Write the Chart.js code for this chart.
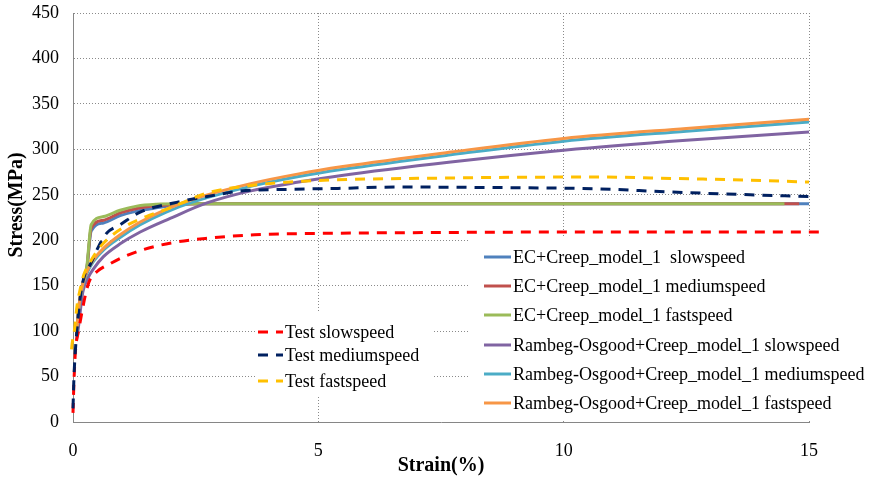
<!DOCTYPE html>
<html lang="en">
<head>
    <meta charset="UTF-8" />
    <title>Stress-strain curves</title>
    <script src="https://cdn.jsdelivr.net/npm/chart.js"></script>
    <style>
        body { margin: 0; background: #fff; }
        canvas { display: block; }
    </style>
</head>
<body>
    <canvas id="chart" width="869" height="486"></canvas>

    <script>
        // ---- data (strain in %, stress in MPa) ----
        const xTicks = [0, 5, 10, 15];
        const yTicks = [0, 50, 100, 150, 200, 250, 300, 350, 400, 450];

        const strainTestSlow = [0, 0.02, 0.05, 0.12, 0.2, 0.29, 0.35, 0.5, 0.75, 1.0, 1.45, 2.0, 2.7, 3.7, 5, 7.5, 10, 12.5, 15.2];
        const stressTestSlow = [10, 45, 78, 102, 126, 148, 157, 166, 174, 181, 190, 197, 202, 206, 207.5, 208.5, 209, 209, 209];

        const strainTestMedium = [0, 0.02, 0.05, 0.08, 0.16, 0.24, 0.35, 0.52, 0.69, 0.96, 1.37, 2.05, 2.73, 3.4, 4.4, 5.4, 6.6, 8.5, 10.7, 12.2, 13.8, 15];
        const stressTestMedium = [15, 50, 80, 101, 142, 162, 173, 193, 208, 217, 231, 241, 248, 254, 256, 257, 258.5, 258, 256.5, 253, 250, 248];

        const strainTestFast = [-0.07, -0.06, -0.03, 0.03, 0.08, 0.15, 0.22, 0.35, 0.53, 0.81, 1.12, 1.49, 1.9, 2.26, 2.73, 3.6, 4.7, 7.7, 10.7, 12.2, 13.8, 15];
        const stressTestFast = [15, 50, 80, 101, 127, 147, 162, 176, 191, 206, 217, 226, 234, 242, 252, 260, 265, 268.5, 269.5, 268, 266, 264];

        const strainEcSlow = [0.07, 0.1, 0.14, 0.2, 0.28, 0.37, 0.62, 0.96, 1.3, 1.63, 1.98, 2.4, 15];
        const stressEcSlow = [95, 115, 135, 152, 168, 210, 219, 227, 232, 235, 238, 240, 240];

        const strainEcMedium = [0.07, 0.1, 0.14, 0.2, 0.28, 0.37, 0.62, 0.96, 1.3, 1.7, 2.2, 2.6, 14.8];
        const stressEcMedium = [95, 115, 135, 152, 168, 213, 222, 230, 235, 238, 239.5, 240, 240];

        const strainEcFast = [0.07, 0.1, 0.14, 0.2, 0.28, 0.37, 0.62, 0.96, 1.3, 1.7, 2.2, 14.5];
        const stressEcFast = [95, 115, 135, 152, 170, 217, 226, 233, 237.5, 239.5, 240, 240];

        const strainRoSlow = [0.07, 0.1, 0.2, 0.3, 0.41, 0.62, 0.96, 1.37, 1.98, 2.73, 3.6, 4.6, 5.44, 7.7, 10, 12.5, 15];
        const stressRoSlow = [90, 100, 143, 158, 168, 182, 196, 209, 224, 241, 254, 264, 271, 286, 299, 310, 319];

        const strainRoMedium = [0.07, 0.1, 0.14, 0.2, 0.28, 0.41, 0.62, 0.96, 1.37, 1.9, 2.5, 3.6, 4.6, 5.5, 7.7, 10, 12.5, 15];
        const stressRoMedium = [95, 114, 133, 150, 163, 176, 189, 203, 217, 231, 243, 259, 270, 278, 294, 309, 320, 330];

        const strainRoFast = [0.07, 0.1, 0.14, 0.2, 0.28, 0.41, 0.62, 0.96, 1.37, 1.9, 2.5, 3.6, 4.6, 5.5, 7.7, 10, 12.5, 15];
        const stressRoFast = [95, 115, 135, 152, 165, 178, 191, 206, 220, 234, 246, 262, 273, 281, 297, 312, 323, 333];

        const FONT = '"Liberation Serif", "Times New Roman", serif';

        function pts(xs, ys) {
            return xs.map((x, i) => ({ x: x, y: ys[i] }));
        }

        function series(label, xs, ys, color, dashed, order, group) {
            return {
                label: label,
                data: pts(xs, ys),
                borderColor: color,
                backgroundColor: color,
                borderWidth: 3,
                borderDash: dashed ? [10, 8] : [],
                borderCapStyle: 'butt',
                pointRadius: 0,
                cubicInterpolationMode: 'monotone',
                clip: false,
                order: order,
                legendGroup: group
            };
        }

        const datasets = [
            series('EC+Creep_model_1  slowspeed', strainEcSlow, stressEcSlow, '#4F81BD', false, 8, 'right'),
            series('EC+Creep_model_1 mediumspeed', strainEcMedium, stressEcMedium, '#C0504D', false, 7, 'right'),
            series('EC+Creep_model_1 fastspeed', strainEcFast, stressEcFast, '#9BBB59', false, 6, 'right'),
            series('Rambeg-Osgood+Creep_model_1 slowspeed', strainRoSlow, stressRoSlow, '#8064A2', false, 5, 'right'),
            series('Rambeg-Osgood+Creep_model_1 mediumspeed', strainRoMedium, stressRoMedium, '#4BACC6', false, 4, 'right'),
            series('Rambeg-Osgood+Creep_model_1 fastspeed', strainRoFast, stressRoFast, '#F79646', false, 3, 'right'),
            series('Test slowspeed', strainTestSlow, stressTestSlow, '#FF0000', true, 2, 'left'),
            series('Test mediumspeed', strainTestMedium, stressTestMedium, '#002060', true, 1, 'left'),
            series('Test fastspeed', strainTestFast, stressTestFast, '#FFC000', true, 0, 'left')
        ];

        // two legend boxes drawn inside the plot, white fill hides the grid
        const legendBoxes = {
            left: { box: [255, 312, 177, 84], markX: 258, markW: 25, rows: [332, 355, 381] },
            right: { box: [470, 238, 396, 182], markX: 484, markW: 27, rows: [257, 286, 315, 345, 374, 403] }
        };

        const boxLegend = {
            id: 'boxLegend',
            beforeDatasetsDraw(chart) {
                const ctx = chart.ctx;
                ctx.save();
                Object.keys(legendBoxes).forEach(key => {
                    const lb = legendBoxes[key];
                    ctx.fillStyle = '#fff';
                    ctx.fillRect(lb.box[0], lb.box[1], lb.box[2], lb.box[3]);
                    const items = chart.data.datasets.filter(d => d.legendGroup === key);
                    items.forEach((d, i) => {
                        const y = lb.rows[i];
                        ctx.beginPath();
                        ctx.setLineDash(d.borderDash);
                        ctx.lineWidth = 3;
                        ctx.strokeStyle = d.borderColor;
                        ctx.moveTo(lb.markX, y);
                        ctx.lineTo(lb.markX + lb.markW, y);
                        ctx.stroke();
                        ctx.setLineDash([]);
                        ctx.fillStyle = '#000';
                        ctx.font = '18px ' + FONT;
                        ctx.textBaseline = 'middle';
                        ctx.textAlign = 'left';
                        ctx.fillText(d.label, lb.markX + lb.markW + 2, y + 1);
                    });
                });
                ctx.restore();
            },
            // y title sits a bit above the middle of the axis, as in the original
            afterDraw(chart) {
                const ctx = chart.ctx;
                ctx.save();
                ctx.translate(17, 205);
                ctx.rotate(-Math.PI / 2);
                ctx.font = 'bold 20px ' + FONT;
                ctx.fillStyle = '#000';
                ctx.textAlign = 'center';
                ctx.textBaseline = 'middle';
                ctx.fillText('Stress(MPa)', 0, 0);
                ctx.restore();
            }
        };

        const gridColor = '#8a8a8a';

        new Chart(document.getElementById('chart').getContext('2d'), {
            type: 'line',
            data: { datasets: datasets },
            plugins: [boxLegend],
            options: {
                responsive: false,
                animation: false,
                devicePixelRatio: 1,
                layout: { padding: { left: 0, right: 60, top: 13, bottom: 0 } },
                plugins: { legend: { display: false }, tooltip: { enabled: false } },
                scales: {
                    x: {
                        type: 'linear',
                        min: xTicks[0],
                        max: xTicks[xTicks.length - 1],
                        afterBuildTicks: s => { s.ticks = xTicks.map(v => ({ value: v })); },
                        afterFit: s => { s.height = 64; },
                        ticks: { color: '#000', font: { family: FONT, size: 18 }, padding: 18, maxRotation: 0 },
                        grid: { color: gridColor, lineWidth: 1, drawTicks: false },
                        border: { color: '#868686', width: 1, dash: [1, 2] },
                        title: {
                            display: true,
                            text: 'Strain(%)',
                            color: '#000',
                            font: { family: FONT, size: 20, weight: 'bold' },
                            padding: { top: 0, bottom: 8 }
                        }
                    },
                    y: {
                        min: yTicks[0],
                        max: yTicks[yTicks.length - 1],
                        afterBuildTicks: s => { s.ticks = yTicks.map(v => ({ value: v })); },
                        afterFit: s => { s.width = 73; s.paddingTop = 0; s.paddingBottom = 0; },
                        ticks: { color: '#000', font: { family: FONT, size: 18 }, padding: 14 },
                        grid: { color: gridColor, lineWidth: 1, drawTicks: false },
                        border: { color: '#868686', width: 1, dash: [1, 2] }
                    }
                }
            }
        });
    </script>
</body>
</html>
